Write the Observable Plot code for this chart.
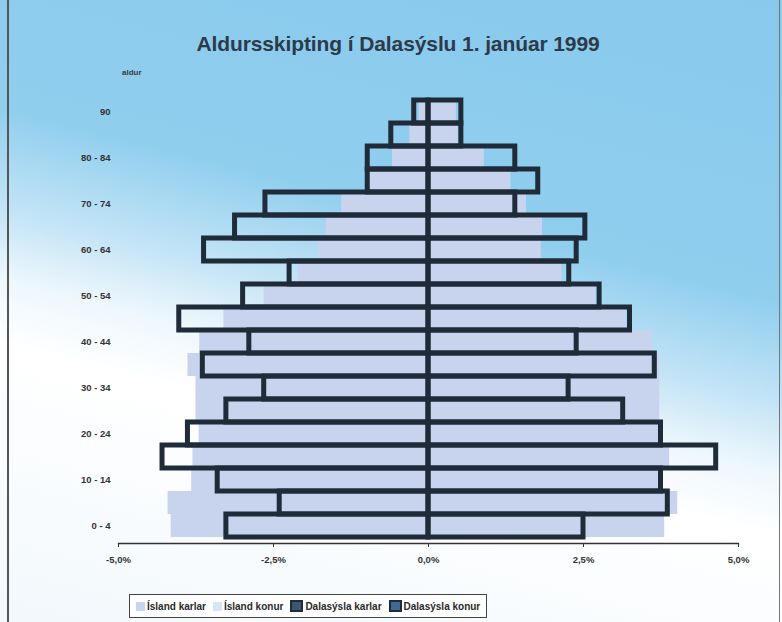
<!DOCTYPE html>
<html>
<head>
<meta charset="utf-8">
<script src="https://cdn.jsdelivr.net/npm/d3@7"></script>
<script src="https://cdn.jsdelivr.net/npm/@observablehq/plot@0.6"></script>
<style>
  html, body { margin: 0; padding: 0; background: #ffffff; }
  #wrap {
    position: relative; width: 782px; height: 622px; overflow: hidden;
    background: linear-gradient(194deg, #88c9ec 0%, #90ceee 37%, #c6e5f6 50%, #eef7fc 58%, #ffffff 66%, #f2f8fc 100%);
    font-family: "Liberation Sans", Arial, sans-serif;
  }
  #wrap::before { content: ""; position: absolute; left: 7px; top: 0; bottom: 0; width: 1.5px; background: #555; }
  #wrap::after { content: ""; position: absolute; right: 2px; top: 0; bottom: 0; width: 1.5px; background: #777; }
  #title { position: absolute; left: 0; width: 796px; top: 32px; text-align: center; font-weight: bold; font-size: 21px; color: #2c3a4a; letter-spacing: -0.1px; }
  #ylab { position: absolute; left: 122px; top: 68px; font-weight: bold; font-size: 8px; color: #3a3a3a; }
  #chart { position: absolute; left: 0; top: 0; line-height: 0; }
  #chart svg { display: block; }
  #legend { position: absolute; left: 129px; top: 594px; width: 358px; height: 24px; background: #fff; border: 1px solid #444; box-sizing: border-box;
    display: flex; align-items: center; padding-left: 6px; font-weight: bold; font-size: 10px; color: #2a2a2a; }
  .item { display: flex; align-items: center; margin-right: 7px; white-space: nowrap; }
  .sw { display: inline-block; width: 9px; height: 9px; margin-right: 2px; box-sizing: border-box; }
</style>
</head>
<body>
<div id="wrap">
  <div id="title">Aldursskipting í Dalasýslu 1. janúar 1999</div>
  <div id="ylab">aldur</div>
  <div id="chart"></div>
  <div id="legend"></div>
</div>
<script>
// Age groups (bottom to top)
const ages = ["0 - 4","5 - 9","10 - 14","15 - 19","20 - 24","25 - 29","30 - 34","35 - 39","40 - 44","45 - 49","50 - 54","55 - 59","60 - 64","65 - 69","70 - 74","75 - 79","80 - 84","85 - 89","90"];
// Share of total population, %
const islandKarlar = [4.15, 4.20, 3.82, 3.80, 3.70, 3.75, 3.75, 3.88, 3.69, 3.30, 2.65, 2.10, 1.78, 1.65, 1.40, 0.95, 0.58, 0.30, 0.15];
const islandKonur  = [3.81, 4.02, 3.77, 3.89, 3.72, 3.73, 3.73, 3.73, 3.61, 3.19, 2.70, 2.15, 1.82, 1.84, 1.58, 1.33, 0.90, 0.48, 0.45];
const dalaKarlar   = [3.26, 2.40, 3.40, 4.29, 3.88, 3.26, 2.65, 3.64, 2.89, 4.02, 2.99, 2.24, 3.62, 3.12, 2.63, 0.98, 0.98, 0.60, 0.23];
const dalaKonur    = [2.50, 3.86, 3.75, 4.64, 3.75, 3.14, 2.26, 3.65, 2.39, 3.25, 2.76, 2.27, 2.39, 2.53, 1.40, 1.77, 1.40, 0.53, 0.53];
const xTicks = [-5, -2.5, 0, 2.5, 5];
const yTickLabels = ages.filter((d, i) => i % 2 === 0);
const seriesNames = ["Ísland karlar", "Ísland konur", "Dalasýsla karlar", "Dalasýsla konur"];

const island = ages.flatMap((a, i) => [
  {age: a, v: -islandKarlar[i], s: seriesNames[0]},
  {age: a, v: islandKonur[i], s: seriesNames[1]}
]);
const dala = ages.flatMap((a, i) => [
  {age: a, v: -dalaKarlar[i], s: seriesNames[2]},
  {age: a, v: dalaKonur[i], s: seriesNames[3]}
]);

const chart = Plot.plot({
  width: 782,
  height: 580,
  marginLeft: 118,
  marginRight: 44,
  marginTop: 93,
  marginBottom: 37,
  style: {background: "transparent", fontFamily: "'Liberation Sans', Arial, sans-serif", fontWeight: "bold", fontSize: "9.5px", color: "#333", overflow: "visible"},
  x: {domain: [-5, 5]},
  y: {domain: ages.slice().reverse(), padding: 0},
  marks: [
    Plot.barX(island, {x1: () => 0, x2: "v", y: "age", fill: "#c8d4ee"}),
    Plot.barX(dala, {x1: () => 0, x2: "v", y: "age", fill: "none", stroke: "#1f2b39", strokeWidth: 5}),
    Plot.frame({anchor: "bottom", stroke: "#333", strokeWidth: 1.3}),
    Plot.axisX({ticks: xTicks, tickFormat: d => d.toFixed(1).replace(".", ",") + "%", tickSize: 4, tickPadding: 9, label: null, stroke: "#333"}),
    Plot.axisY({ticks: yTickLabels, tickSize: 0, tickPadding: 8, label: null})
  ]
});
document.getElementById("chart").appendChild(chart);

// Legend
const swatches = [
  {bg: "#c6d6ef", border: "none"},
  {bg: "#d9e5f4", border: "none"},
  {bg: "#3d5670", border: "2px solid #1f2b39"},
  {bg: "#3f6a92", border: "2px solid #1f2b39"}
];
const legend = document.getElementById("legend");
seriesNames.forEach((n, i) => {
  const it = document.createElement("div");
  it.className = "item";
  const sw = document.createElement("span");
  sw.className = "sw";
  sw.style.background = swatches[i].bg;
  sw.style.border = swatches[i].border;
  if (i >= 2) { sw.style.width = "13px"; sw.style.height = "12px"; }
  it.appendChild(sw);
  it.appendChild(document.createTextNode(n));
  legend.appendChild(it);
});
</script>
</body>
</html>
